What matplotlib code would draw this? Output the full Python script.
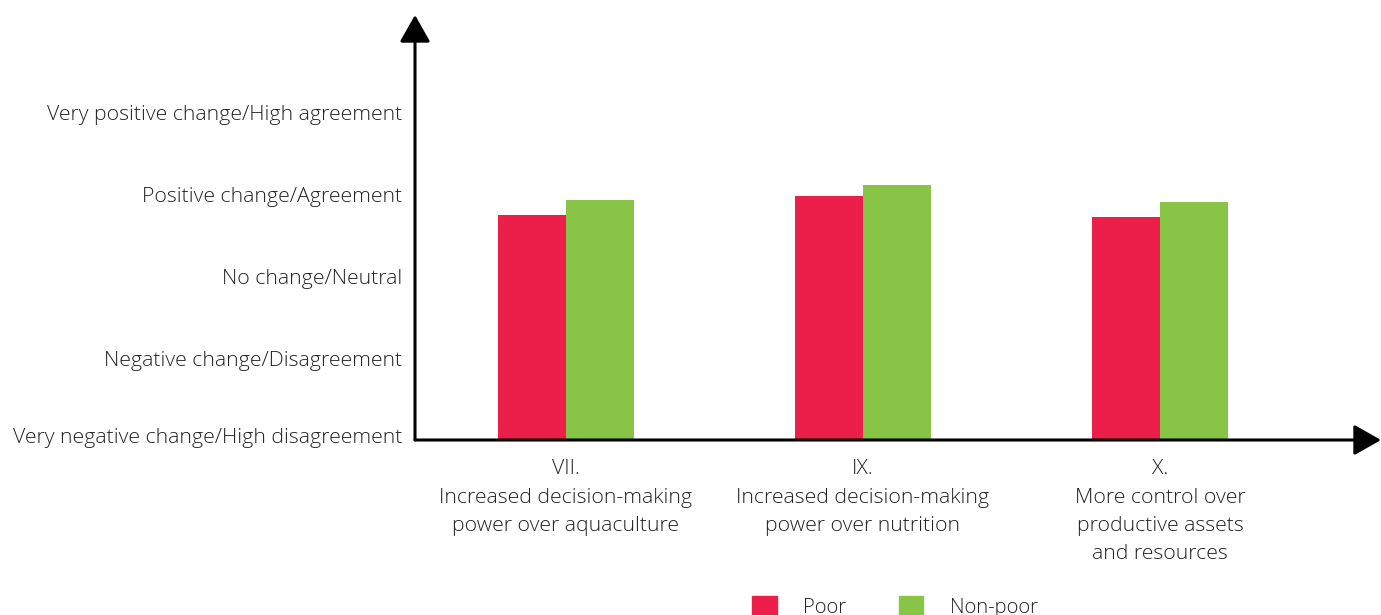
import matplotlib.pyplot as plt
import matplotlib.transforms as mtransforms
import numpy as np
from matplotlib.patches import Patch

plt.rcParams['font.family'] = ['Open Sans', 'DejaVu Sans']
plt.rcParams['font.weight'] = 'light'

# data
categories = ["VII.\nIncreased decision-making\npower over aquaculture",
              "IX.\nIncreased decision-making\npower over nutrition",
              "X.\nMore control over\nproductive assets\nand resources"]
poor = [3.75, 3.97, 3.72]
non_poor = [3.93, 4.11, 3.90]
levels = [1, 2, 3, 4, 5]
level_labels = ["Very negative change/High disagreement",
                "Negative change/Disagreement",
                "No change/Neutral",
                "Positive change/Agreement",
                "Very positive change/High agreement"]

red = '#EC1F4B'
green = '#88C546'
fs = 15.3

W, H = 1381, 615
fig = plt.figure(figsize=(W / 100, H / 100), dpi=100)
ax = fig.add_axes([415 / W, 175 / H, 966 / W, 425 / H])

x = np.arange(len(categories))
bw = 0.229
ax.bar(x - bw / 2, np.array(poor) - 1, bw, bottom=1, color=red, label='Poor')
ax.bar(x + bw / 2, np.array(non_poor) - 1, bw, bottom=1, color=green, label='Non-poor')

ax.set_xlim(-0.508, 2.744)
ax.set_ylim(1, 6.183)

for s in ax.spines.values():
    s.set_visible(False)

# axis arrows
arrow = dict(arrowstyle='-|>,head_length=1.66,head_width=0.94', mutation_scale=10,
             color='black', lw=2.2, shrinkA=0, shrinkB=0)
ax.annotate('', xy=(0, 1), xytext=(0, 0), xycoords='axes fraction', arrowprops=arrow)
ax.annotate('', xy=(1, 0), xytext=(0, 0), xycoords='axes fraction', arrowprops=arrow)

ax.set_yticks(levels)
ax.set_yticklabels(level_labels, fontsize=fs, color='#222222')
ax.set_xticks(x)
ax.set_xticklabels(categories, fontsize=fs, color='#222222', linespacing=1.54)
ax.tick_params(axis='both', length=0)
ax.tick_params(axis='y', pad=9)
ax.tick_params(axis='x', pad=14)

# lift the lowest label a little off the axis line
lbl = ax.get_yticklabels()[0]
lbl.set_transform(lbl.get_transform() + mtransforms.ScaledTranslation(0, 4 / 100, fig.dpi_scale_trans))

handles = [Patch(color=red, label='Poor'), Patch(color=green, label='Non-poor')]
fig.legend(handles=handles, loc='center', bbox_to_anchor=(895 / W, 8 / H), ncol=2,
           frameon=False, fontsize=14.6, handlelength=1.2, handleheight=1.1,
           handletextpad=1.3, columnspacing=2.6, labelcolor='#222222')

plt.savefig('out.png', dpi=100)
